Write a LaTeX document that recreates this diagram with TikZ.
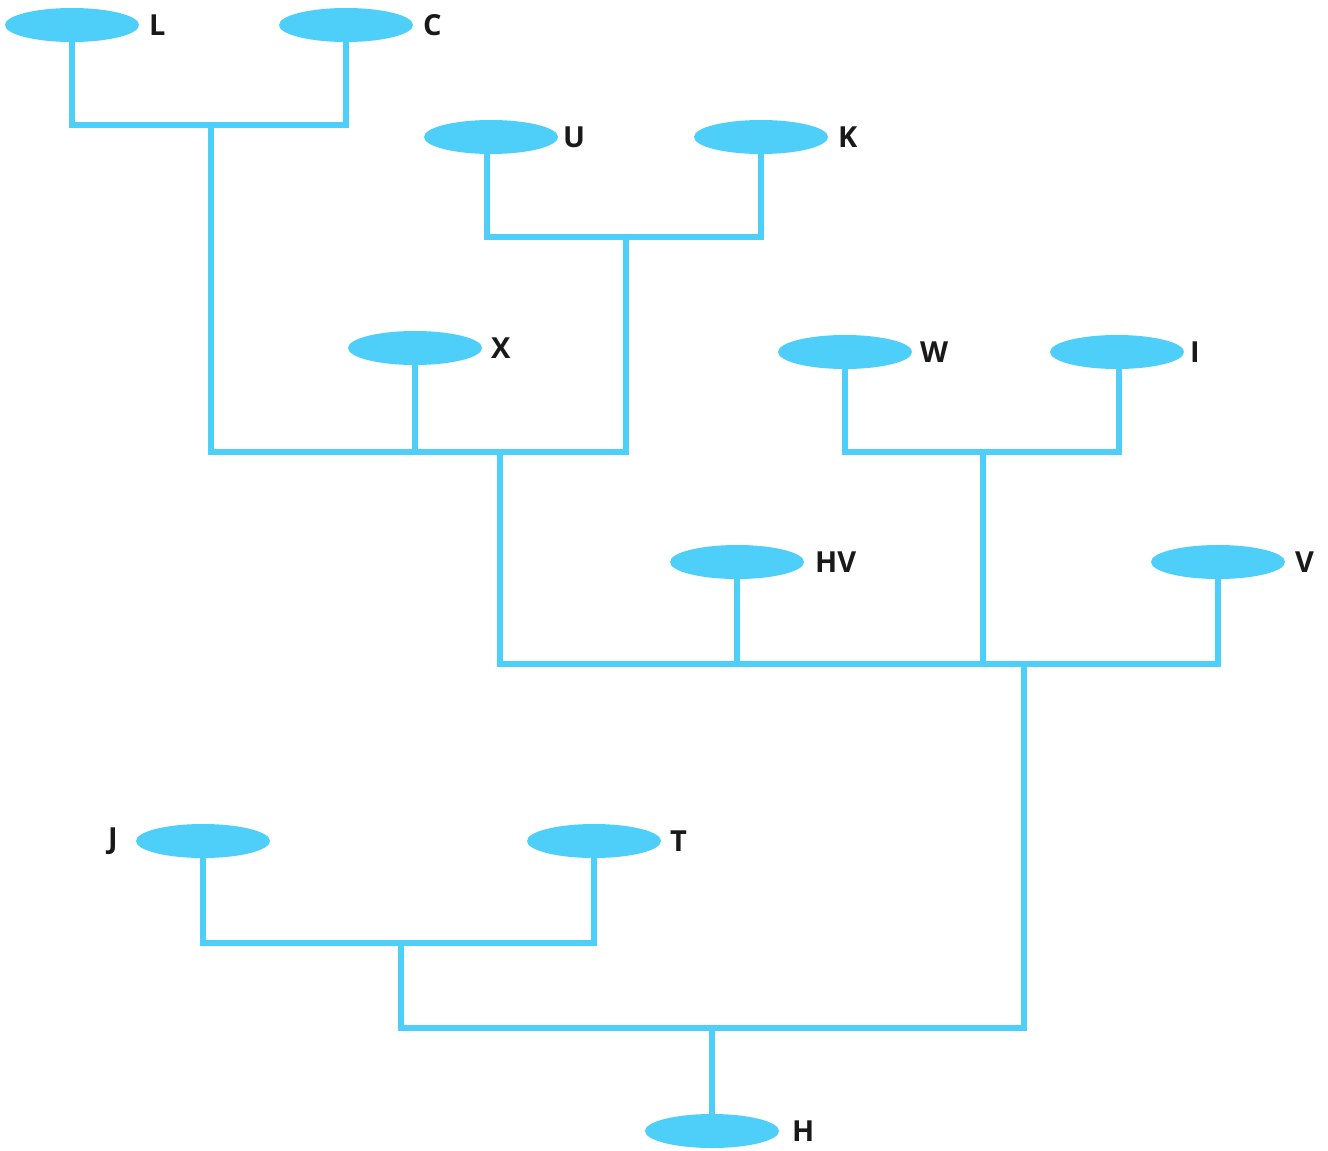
\documentclass[tikz,border=0pt]{standalone}
\usepackage{fontspec}
\setmainfont{Open Sans}
\usetikzlibrary{shapes.geometric,backgrounds}
\definecolor{treeblue}{HTML}{4DCFFA}
\tikzset{
  leaf/.style={ellipse,fill=treeblue,minimum width=134pt,minimum height=34pt,inner sep=0pt},
  lbl/.style={font=\fontsize{29}{30}\selectfont\bfseries,text=black!90,inner sep=0pt},
  branch/.style={draw=treeblue,line width=5.5pt,line join=miter}
}
\begin{document}
\begin{tikzpicture}[x=1pt,y=-1pt]
\useasboundingbox (0,0) rectangle (1328,1151);
% leaves
\node[leaf] (L) at (72,25) {};
\node[lbl,anchor=west] (tL) at (149,25) {L};
\node[leaf] (C) at (346,25) {};
\node[lbl,anchor=west] (tC) at (423,25) {C};
\node[leaf] (U) at (491,137) {};
\node[lbl,anchor=west] (tU) at (563,137) {U};
\node[leaf] (K) at (761,137) {};
\node[lbl,anchor=west] (tK) at (838,137) {K};
\node[leaf] (X) at (415,348) {};
\node[lbl,anchor=west] (tX) at (491,348) {X};
\node[leaf] (W) at (845,352) {};
\node[lbl,anchor=west] (tW) at (920,352) {W};
\node[leaf] (I) at (1117,352) {};
\node[lbl,anchor=west] (tI) at (1190,352) {I};
\node[leaf] (HV) at (737,562) {};
\node[lbl,anchor=west] (tHV) at (815,562) {HV};
\node[leaf] (V) at (1218,562) {};
\node[lbl,anchor=west] (tV) at (1295,562) {V};
\node[leaf] (J) at (203,841) {};
\node[lbl,anchor=east] (tJ) at (118,841) {J};
\node[leaf] (T) at (594,841) {};
\node[lbl,anchor=west] (tT) at (670,841) {T};
\node[leaf] (H) at (712,1131) {};
\node[lbl,anchor=west] (tH) at (792,1131) {H};
% junctions
\coordinate (lc) at (211,125);
\coordinate (uk) at (626,237);
\coordinate (lx) at (500,452);
\coordinate (wi) at (983,452);
\coordinate (big) at (1024,664);
\coordinate (jt) at (401,943);
\coordinate (root) at (712,1028);
\begin{scope}[on background layer]
\draw[branch] (L.center) |- (lc) -| (C.center);
\draw[branch] (487,137) |- (uk) -| (K.center);
\draw[branch] (lc) |- (lx) -| (uk);
\draw[branch] (X.center) -- (X.center |- lx);
\draw[branch] (W.center) |- (wi) -| (1119,352);
\draw[branch] (lx) |- (big) -| (V.center);
\draw[branch] (wi) -- (wi |- big);
\draw[branch] (HV.center) -- (HV.center |- big);
\draw[branch] (J.center) |- (jt) -| (T.center);
\draw[branch] (jt) |- (root) -| (big);
\draw[branch] (root) -- (H.center);
\end{scope}
\end{tikzpicture}
\end{document}
